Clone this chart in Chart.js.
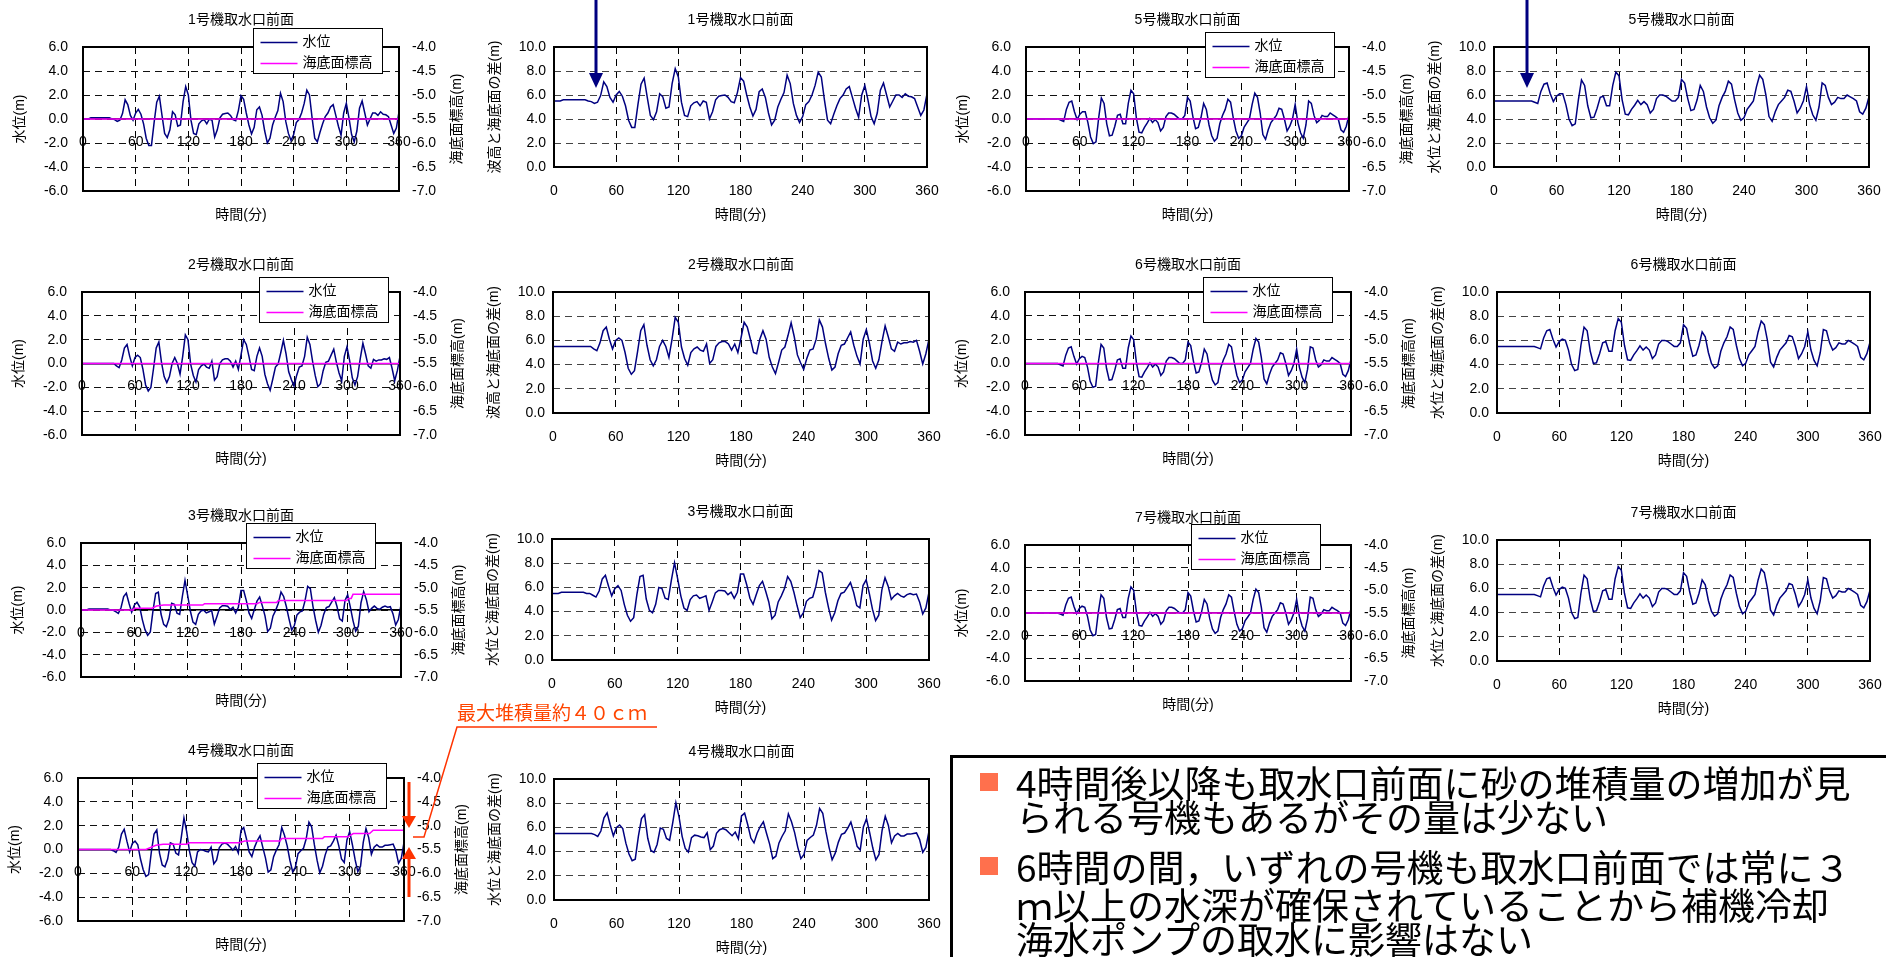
<!DOCTYPE html>
<html lang="ja">
<head>
<meta charset="utf-8">
<title>取水口前面 水位と海底面標高</title>
<script src="https://cdn.jsdelivr.net/npm/chart.js@4.4.1/dist/chart.umd.min.js"></script>
<style>
  html, body { margin: 0; padding: 0; background: #fff; }
  body { position: relative; width: 1886px; height: 957px; overflow: hidden; }
  canvas { position: absolute; }
  #marks { position: absolute; left: 0; top: 0; }
  #deposit { position: absolute; left: 457px; top: 701px; color: #ff4500; font: 19px/22px "Noto Sans CJK JP", sans-serif; white-space: nowrap; }
  #notes { position: absolute; left: 950px; top: 755px; width: 1000px; height: 260px; box-sizing: border-box;
           border: 3px solid #000; background: #fff; font: 37px "Noto Sans CJK JP", sans-serif; color: #000; }
  #notes .ln { position: absolute; left: 63px; white-space: nowrap; line-height: 35px; }
  #notes .sq { position: absolute; left: 27px; width: 18px; height: 18px; background: #ff704d; }
</style>
</head>
<body>

<div id="deposit">最大堆積量約４０ｃｍ</div>

<div id="notes">
  <div class="sq" style="top:15px"></div>
  <div class="ln" style="top:7px">4時間後以降も取水口前面に砂の堆積量の増加が見</div>
  <div class="ln" style="top:41px">られる号機もあるがその量は少ない</div>
  <div class="sq" style="top:99px"></div>
  <div class="ln" style="top:91px">6時間の間，いずれの号機も取水口前面では常に３</div>
  <div class="ln" style="top:129px">ｍ以上の水深が確保されていることから補機冷却</div>
  <div class="ln" style="top:163px">海水ポンプの取水に影響はない</div>
</div>

<svg id="marks" width="1886" height="957">
  <line x1="596" y1="0" x2="596" y2="75" stroke="#000080" stroke-width="3"/>
  <polygon points="589,73 603,73 596,88" fill="#000080"/>
  <line x1="1527" y1="0" x2="1527" y2="75" stroke="#000080" stroke-width="3"/>
  <polygon points="1520,73 1534,73 1527,88" fill="#000080"/>
  <line x1="409" y1="782" x2="409" y2="818" stroke="#ff3300" stroke-width="3"/>
  <polygon points="402,816 416,816 409,828" fill="#ff3300"/>
  <line x1="409" y1="857" x2="409" y2="897" stroke="#ff3300" stroke-width="3"/>
  <polygon points="409,847 402,859 416,859" fill="#ff3300"/>
  <polyline points="413,837 424,837 457,727 657,727" fill="none" stroke="#ff3300" stroke-width="1.5"/>
</svg>

<script>
// time axis (minutes), sampled every 3 min
var minutes = [
  0, 3, 6, 9, 12, 15, 18, 21, 24, 27,
  30, 33, 36, 39, 42, 45, 48, 51, 54, 57,
  60, 63, 66, 69, 72, 75, 78, 81, 84, 87,
  90, 93, 96, 99, 102, 105, 108, 111, 114, 117,
  120, 123, 126, 129, 132, 135, 138, 141, 144, 147,
  150, 153, 156, 159, 162, 165, 168, 171, 174, 177,
  180, 183, 186, 189, 192, 195, 198, 201, 204, 207,
  210, 213, 216, 219, 222, 225, 228, 231, 234, 237,
  240, 243, 246, 249, 252, 255, 258, 261, 264, 267,
  270, 273, 276, 279, 282, 285, 288, 291, 294, 297,
  300, 303, 306, 309, 312, 315, 318, 321, 324, 327,
  330, 333, 336, 339, 342, 345, 348, 351, 354, 357,
  360
]

// 水位 (m)
var wl1 = [
  0.0, 0.0, 0.0, 0.1, 0.1, 0.1, 0.1, 0.1, 0.1, 0.1,
  0.1, 0.0, -0.05, -0.2, -0.1, 0.45, 1.6, 1.2, 0.3, -0.1,
  0.5, 0.8, 0.4, -0.4, -1.6, -2.2, -2.2, -0.3, 1.4, 1.9,
  0.3, -1.2, -1.55, -0.9, 0.6, 0.35, -0.6, -0.5, 1.45, 2.7,
  2.0, -0.1, -1.2, -1.3, -0.4, -0.15, -0.05, -0.4, 0.0, -0.1,
  -1.5, -0.9, 0.1, 0.4, 0.45, 0.5, 0.3, -0.05, -0.15, 0.7,
  1.95, 1.65, 0.5, -0.5, -1.25, -0.7, 0.77, 1.0, 0.3, -1.0,
  -2.0, -1.6, -0.5, 0.15, 0.7, 2.15, 1.45, -0.2, -1.2, -1.8,
  -1.3, -0.3, -0.05, 0.5, 1.3, 2.4, 2.0, 0.1, -1.6, -1.9,
  -1.1, -0.4, 0.2, 0.5, 1.0, 1.2, 0.3, -0.6, -1.35, 0.5,
  1.3, 0.1, -1.3, -1.9, -1.0, 0.9, 1.5, 0.5, -0.5, 0.0,
  0.5, 0.5, 0.3, 0.6, 0.4, 0.35, 0.2, -0.5, -1.2, -0.75,
  0.6
]
var wl2 = [
  0.0, 0.0, 0.0, 0.0, 0.0, 0.0, 0.0, 0.0, 0.0, 0.0,
  0.0, 0.0, 0.0, -0.2, -0.35, 0.3, 1.3, 1.6, 0.6, -0.2,
  0.5, 0.7, 0.5, -0.5, -1.8, -2.3, -2.0, -0.4, 1.3, 1.8,
  0.1, -1.1, -1.6, -1.1, 0.0, 0.5, 0.0, -0.9, 0.6, 2.4,
  2.0, -0.05, -1.0, -1.55, -0.5, -0.2, -0.05, -0.3, -0.4, 0.2,
  -1.4, -1.1, 0.0, 0.3, 0.4, 0.4, 0.2, -0.3, 0.2, -0.5,
  0.7, 2.0, 1.6, 0.6, -0.5, -0.6, 0.6, 1.3, 0.6, -0.9,
  -1.7, -2.25, -1.3, -0.3, -0.05, 0.9, 1.95, 0.8, -0.7, -1.35,
  -1.9, -1.0, -0.3, -0.2, 0.6, 2.2, 1.6, 0.2, -1.0, -1.95,
  -1.7, -0.6, 0.1, 0.2, 0.7, 1.2, 0.1, -0.8, -1.45, 0.6,
  1.4, 0.25, -1.2, -1.8, -1.1, 0.4, 1.7, 0.8, -0.2, -0.4,
  0.35, 0.2, 0.3, 0.3, 0.4, 0.35, 0.5, -0.4, -1.45, -0.6,
  0.6
]
var wl3 = [
  0.0, 0.0, 0.0, 0.1, 0.1, 0.1, 0.1, 0.1, 0.1, 0.1,
  0.1, 0.0, 0.0, -0.15, -0.3, 0.2, 1.2, 1.5, 0.6, -0.2,
  0.44, 0.69, 0.29, -0.86, -1.76, -2.26, -1.96, -0.06, 1.48, 1.6,
  -0.36, -1.29, -1.49, -0.79, 0.61, 0.51, -0.29, -0.39, 1.21, 2.65,
  1.31, -0.09, -1.09, -1.29, -0.39, -0.09, -0.01, -0.26, -0.16, -0.06,
  -1.26, -0.56, 0.19, 0.39, 0.39, 0.34, 0.04, 0.24, -0.26, 0.24,
  1.74, 1.74, 0.84, -0.26, -0.76, 0.04, 0.79, 1.17, 0.37, -0.53,
  -1.93, -1.63, -0.53, -0.03, 0.61, 1.61, 1.21, 0.31, -0.79, -1.79,
  -1.39, -0.44, -0.19, -0.09, 0.81, 2.11, 1.91, 0.31, -0.94, -1.99,
  -1.39, -0.39, 0.21, 0.31, 0.71, 1.11, 0.31, -0.79, -0.99, 0.86,
  1.36, 0.26, -0.95, -1.9, -1.45, 0.65, 1.65, 0.95, -0.15, 0.15,
  0.35, 0.15, 0.05, 0.25, 0.35, 0.25, 0.3, -0.35, -1.35, -0.85,
  0.45
]
var wl4 = [
  0.0, 0.0, 0.0, 0.0, 0.0, 0.0, 0.0, 0.0, 0.0, 0.0,
  0.0, 0.0, 0.0, -0.1, -0.25, 0.2, 1.3, 1.7, 0.7, -0.2,
  0.5, 0.7, 0.4, -0.8, -1.7, -2.25, -2.1, -0.2, 1.3, 1.65,
  -0.3, -1.3, -1.45, -0.8, 0.55, 0.45, -0.3, -0.45, 1.0, 2.65,
  1.5, -0.1, -1.1, -1.4, -0.2, 0.0, -0.05, -0.15, -0.2, 0.2,
  -1.2, -0.9, 0.15, 0.45, 0.55, 0.45, 0.2, -0.05, 0.25, -0.3,
  1.6, 1.85, 0.9, -0.2, -0.6, 0.2, 0.75, 1.15, 0.2, -0.7,
  -1.9, -1.7, -0.6, -0.05, 0.4, 1.85, 1.2, 0.3, -0.9, -1.85,
  -1.5, -0.35, -0.1, 0.1, 0.9, 2.3, 1.9, 0.4, -0.9, -1.95,
  -1.4, -0.45, 0.2, 0.3, 0.7, 1.2, 0.3, -0.8, -1.1, 0.8,
  1.5, 0.4, -0.85, -1.85, -1.4, 0.6, 1.75, 1.0, -0.4, 0.2,
  0.4, 0.2, 0.2, 0.35, 0.35, 0.4, 0.45, -0.1, -1.15, -0.75,
  0.6
]
var wl5 = [
  0.0, 0.0, 0.0, 0.0, 0.0, 0.0, 0.0, 0.0, 0.0, 0.0,
  0.0, 0.0, 0.0, -0.1, -0.2, 0.8, 1.4, 1.5, 0.6, -0.05,
  0.4, 0.6, 0.6, -0.3, -1.5, -2.05, -1.9, 0.1, 1.75, 1.3,
  -0.4, -1.4, -1.35, -0.6, 0.3, 0.4, -0.4, -0.4, 1.3, 2.4,
  2.1, 0.1, -1.1, -1.15, -0.7, -0.35, 0.05, -0.3, -0.05, -0.3,
  -1.0, -0.7, 0.2, 0.5, 0.5, 0.4, 0.2, 0.0, 0.0, 0.3,
  1.8, 1.5, 0.2, -0.8, -0.7, 0.1, 1.3, 0.8, -0.5, -1.4,
  -1.85, -1.6, -0.4, 0.3, 0.8, 1.65, 1.4, 0.1, -1.0, -1.6,
  -1.4, -0.7, -0.35, 0.0, 1.2, 2.15, 1.8, 0.5, -1.3, -1.7,
  -0.9, -0.3, 0.0, 0.3, 0.9, 0.8, 0.0, -1.0, -0.6, 0.0,
  1.2, -0.3, -1.15, -1.6, -0.5, 1.5, 1.3, 0.3, -0.3, -0.1,
  0.3, 0.2, 0.2, 0.5, 0.35, 0.2, 0.0, -0.9, -1.1, -0.6,
  0.35
]
var wl6 = [
  0.0, 0.0, 0.0, 0.0, 0.0, 0.0, 0.0, 0.0, 0.0, 0.0,
  0.0, 0.0, 0.0, -0.1, -0.2, 0.7, 1.3, 1.4, 0.6, -0.05,
  0.4, 0.6, 0.5, -0.3, -1.5, -2.0, -1.9, 0.1, 1.6, 1.3,
  -0.4, -1.4, -1.35, -0.6, 0.3, 0.4, -0.4, -0.4, 1.3, 2.3,
  2.0, 0.1, -1.1, -1.15, -0.7, -0.35, 0.05, -0.3, -0.05, -0.3,
  -1.0, -0.7, 0.2, 0.5, 0.5, 0.4, 0.2, 0.0, 0.0, 0.3,
  1.8, 1.5, 0.2, -0.8, -0.7, 0.1, 1.2, 0.8, -0.5, -1.4,
  -1.8, -1.6, -0.4, 0.3, 0.8, 1.6, 1.4, 0.1, -1.0, -1.6,
  -1.4, -0.7, -0.35, 0.0, 1.2, 2.1, 1.8, 0.5, -1.3, -1.7,
  -0.9, -0.3, 0.0, 0.3, 0.9, 0.8, 0.0, -1.0, -0.6, 0.0,
  1.2, -0.3, -1.15, -1.6, -0.5, 1.4, 1.3, 0.3, -0.3, -0.1,
  0.3, 0.2, 0.2, 0.5, 0.35, 0.2, 0.0, -0.9, -1.1, -0.6,
  0.35
]
var wl7 = [
  0.0, 0.0, 0.0, 0.0, 0.0, 0.0, 0.0, 0.0, 0.0, 0.0,
  0.0, 0.0, 0.0, -0.1, -0.2, 0.7, 1.3, 1.4, 0.6, -0.05,
  0.4, 0.6, 0.5, -0.3, -1.5, -2.0, -1.9, 0.1, 1.6, 1.3,
  -0.4, -1.4, -1.35, -0.6, 0.3, 0.4, -0.4, -0.4, 1.3, 2.3,
  2.0, 0.1, -1.1, -1.15, -0.7, -0.35, 0.05, -0.3, -0.05, -0.3,
  -1.0, -0.7, 0.2, 0.5, 0.5, 0.4, 0.2, 0.0, 0.0, 0.3,
  1.8, 1.5, 0.2, -0.8, -0.7, 0.1, 1.2, 0.8, -0.5, -1.4,
  -1.8, -1.6, -0.4, 0.3, 0.8, 1.6, 1.4, 0.1, -1.0, -1.6,
  -1.4, -0.7, -0.35, 0.0, 1.2, 2.1, 1.8, 0.5, -1.3, -1.7,
  -0.9, -0.3, 0.0, 0.3, 0.9, 0.8, 0.0, -1.0, -0.6, 0.0,
  1.2, -0.3, -1.15, -1.6, -0.5, 1.4, 1.3, 0.3, -0.3, -0.1,
  0.3, 0.2, 0.2, 0.5, 0.35, 0.2, 0.0, -0.9, -1.1, -0.6,
  0.35
]

// 海底面標高 (m), break points
var bed1Min = [0, 360]
var bed1 = [-5.5, -5.5]
var bed2Min = [0, 360]
var bed2 = [-5.5, -5.5]
var bed3Min = [0, 59, 60, 80, 85, 93, 137, 139, 198, 201, 220, 222, 299, 301, 304, 306, 360]
var bed3 = [-5.5, -5.5, -5.46, -5.46, -5.41, -5.39, -5.39, -5.36, -5.36, -5.33, -5.33, -5.29, -5.29, -5.24, -5.24, -5.15, -5.15]
var bed4Min = [0, 75, 86, 94, 120, 123, 178, 184, 223, 225, 270, 272, 298, 304, 322, 326, 360]
var bed4 = [-5.5, -5.5, -5.41, -5.39, -5.39, -5.36, -5.36, -5.32, -5.32, -5.27, -5.27, -5.235, -5.235, -5.165, -5.165, -5.095, -5.095]
var bed5Min = [0, 360]
var bed5 = [-5.5, -5.5]
var bed6Min = [0, 360]
var bed6 = [-5.5, -5.5]
var bed7Min = [0, 360]
var bed7 = [-5.5, -5.5]

var panels = [
  { name: '1号機取水口前面', wl: wl1, bedMin: bed1Min, bed: bed1, diffTitle: '波高と海底面の差(m)',
    left: { x: 83, y: 47, w: 316, h: 144 }, right: { x: 554, y: 47, w: 373, h: 120 }, legendAt: [-146, -19] },
  { name: '2号機取水口前面', wl: wl2, bedMin: bed2Min, bed: bed2, diffTitle: '波高と海底面の差(m)',
    left: { x: 82, y: 292, w: 318, h: 143 }, right: { x: 553, y: 292, w: 376, h: 121 }, legendAt: [-141, -15] },
  { name: '3号機取水口前面', wl: wl3, bedMin: bed3Min, bed: bed3, diffTitle: '水位と海底面の差(m)',
    left: { x: 81, y: 543, w: 320, h: 134 }, right: { x: 552, y: 539, w: 377, h: 121 }, legendAt: [-155, -20] },
  { name: '4号機取水口前面', wl: wl4, bedMin: bed4Min, bed: bed4, diffTitle: '水位と海底面の差(m)',
    left: { x: 78, y: 778, w: 326, h: 143 }, right: { x: 554, y: 779, w: 375, h: 121 }, legendAt: [-147, -15] },
  { name: '5号機取水口前面', wl: wl5, bedMin: bed5Min, bed: bed5, diffTitle: '水位と海底面の差(m)',
    left: { x: 1026, y: 47, w: 323, h: 144 }, right: { x: 1494, y: 47, w: 375, h: 120 }, legendAt: [-144, -15] },
  { name: '6号機取水口前面', wl: wl6, bedMin: bed6Min, bed: bed6, diffTitle: '水位と海底面の差(m)',
    left: { x: 1025, y: 292, w: 326, h: 143 }, right: { x: 1497, y: 292, w: 373, h: 121 }, legendAt: [-148, -15] },
  { name: '7号機取水口前面', wl: wl7, bedMin: bed7Min, bed: bed7, diffTitle: '水位と海底面の差(m)',
    left: { x: 1025, y: 545, w: 326, h: 136 }, right: { x: 1497, y: 540, w: 373, h: 121 }, legendAt: [-160, -21] }
]

var FONT = '"Liberation Sans", "Noto Sans CJK JP", sans-serif'
Chart.defaults.font.family = FONT
Chart.defaults.font.size = 14
Chart.defaults.color = '#000'

function fmt (v) { return v.toFixed(1) }

function pts (xs, ys) {
  return xs.map(function (x, i) { return { x: x, y: ys[i] } })
}

// seabed level at time t (linear between break points)
function bedAt (mins, vals, t) {
  for (var i = 1; i < mins.length; i++) {
    if (t <= mins[i]) {
      return vals[i - 1] + (t - mins[i - 1]) / (mins[i] - mins[i - 1]) * (vals[i] - vals[i - 1])
    }
  }
  return vals[vals.length - 1]
}

function addCanvas (x, y, w, h) {
  var c = document.createElement('canvas')
  c.width = w
  c.height = h
  c.style.left = x + 'px'
  c.style.top = y + 'px'
  document.body.appendChild(c)
  return c
}

// frame, in-plot legend and the right hand axis title
var panelDecor = {
  id: 'panelDecor',
  afterDraw: function (chart, args, o) {
    var a = chart.chartArea
    var ctx = chart.ctx
    ctx.save()
    ctx.strokeStyle = '#000'
    ctx.lineWidth = 2
    ctx.strokeRect(a.left, a.top, a.right - a.left, a.bottom - a.top)

    if (o.rightTitle) {
      ctx.save()
      ctx.translate(a.right + o.rightTitleDx, (a.top + a.bottom) / 2)
      ctx.rotate(-Math.PI / 2)
      ctx.font = '14px ' + FONT
      ctx.fillStyle = '#000'
      ctx.textAlign = 'center'
      ctx.textBaseline = 'middle'
      ctx.fillText(o.rightTitle, 0, 0)
      ctx.restore()
    }

    if (o.legendAt) {
      var x = Math.round(a.right + o.legendAt[0]) + 0.5
      var y = Math.round(a.top + o.legendAt[1]) + 0.5
      ctx.fillStyle = '#fff'
      ctx.fillRect(x, y, 129, 45)
      ctx.strokeStyle = '#000'
      ctx.lineWidth = 1
      ctx.strokeRect(x, y, 129, 45)
      var items = chart.data.datasets.slice().sort(function (p, q) { return p.legendRank - q.legendRank })
      ctx.font = '14px ' + FONT
      ctx.textBaseline = 'middle'
      ctx.textAlign = 'left'
      items.forEach(function (ds, i) {
        var ly = y + 14 + i * 21
        ctx.strokeStyle = ds.borderColor
        ctx.lineWidth = 1.5
        ctx.beginPath()
        ctx.moveTo(x + 7, ly)
        ctx.lineTo(x + 44, ly)
        ctx.stroke()
        ctx.fillStyle = '#000'
        ctx.fillText(ds.label, x + 49, ly)
      })
    }
    ctx.restore()
  }
}

var titleOpts = function (text) {
  return { display: true, text: text, color: '#000', font: { size: 14, weight: 'normal' }, padding: { top: 9.6, bottom: 18.6 } }
}

function levelChart (p) {
  var r = p.left
  var cv = addCanvas(r.x - 85, r.y - 45, r.w + 170, r.h + 85)
  new Chart(cv, {
    type: 'line',
    data: {
      datasets: [
        { label: '海底面標高', data: pts(p.bedMin, p.bed), yAxisID: 'y2', borderColor: '#ff00ff', borderWidth: 1.5, pointRadius: 0, legendRank: 2 },
        { label: '水位', data: pts(minutes, p.wl), yAxisID: 'y', borderColor: '#000080', borderWidth: 1.5, pointRadius: 0, legendRank: 1 }
      ]
    },
    options: {
      responsive: false,
      animation: false,
      events: [],
      layout: { padding: 0 },
      plugins: {
        legend: { display: false },
        tooltip: { enabled: false },
        title: titleOpts(p.name),
        panelDecor: { legendAt: p.legendAt, rightTitle: '海底面標高(m)', rightTitleDx: 58 }
      },
      scales: {
        x: {
          type: 'linear', min: 0, max: 360, position: { y: 0 },
          ticks: { stepSize: 60, padding: 14.6, autoSkip: false, maxRotation: 0 },
          grid: { color: '#000', drawTicks: false },
          border: { display: true, color: '#000', width: 1.5, dash: [7, 5] }
        },
        xt: {
          type: 'linear', min: 0, max: 360, position: 'bottom',
          ticks: { display: false }, grid: { display: false }, border: { display: false },
          title: { display: true, text: '時間(分)', font: { size: 14 }, padding: { top: 0, bottom: 7.6 } },
          afterFit: function (s) { s.height = 40 }
        },
        y: {
          min: -6, max: 6,
          ticks: { stepSize: 2, padding: 15, callback: fmt },
          grid: { color: '#111', drawTicks: false },
          border: { display: false, dash: [7, 5] },
          title: { display: true, text: '水位(m)', font: { size: 14 }, padding: { top: 13.6, bottom: 0 } },
          afterFit: function (s) { s.width = 85 }
        },
        y2: {
          position: 'right', min: -7, max: -4,
          ticks: { stepSize: 0.5, padding: 13, callback: fmt },
          grid: { drawOnChartArea: false, drawTicks: false },
          border: { display: false },
          afterFit: function (s) { s.width = 85 }
        }
      }
    },
    plugins: [panelDecor]
  })
}

function depthChart (p) {
  var r = p.right
  var cv = addCanvas(r.x - 75, r.y - 45, r.w + 150, r.h + 107)
  var diff = minutes.map(function (t, i) {
    return { x: t, y: p.wl[i] - bedAt(p.bedMin, p.bed, t) }
  })
  new Chart(cv, {
    type: 'line',
    data: {
      datasets: [
        { label: p.diffTitle, data: diff, borderColor: '#000080', borderWidth: 1.5, pointRadius: 0 }
      ]
    },
    options: {
      responsive: false,
      animation: false,
      events: [],
      layout: { padding: 0 },
      plugins: {
        legend: { display: false },
        tooltip: { enabled: false },
        title: titleOpts(p.name),
        panelDecor: {}
      },
      scales: {
        x: {
          type: 'linear', min: 0, max: 360, position: 'bottom',
          ticks: { stepSize: 60, padding: 15.6, autoSkip: false, maxRotation: 0 },
          grid: { color: '#000', drawTicks: false },
          border: { display: false, dash: [7, 5] },
          title: { display: true, text: '時間(分)', font: { size: 14 }, padding: { top: 0, bottom: 5.6 } },
          afterFit: function (s) { s.height = 62 }
        },
        y: {
          min: 0, max: 10,
          ticks: { stepSize: 2, padding: 8, callback: fmt },
          grid: { color: '#444', drawTicks: false },
          border: { display: false, dash: [7, 5] },
          title: { display: true, text: p.diffTitle, font: { size: 14 }, padding: { top: 7.6, bottom: 0 } },
          afterFit: function (s) { s.width = 75 }
        },
        yr: {
          position: 'right', min: 0, max: 1,
          ticks: { display: false }, grid: { display: false }, border: { display: false },
          afterFit: function (s) { s.width = 75 }
        }
      }
    },
    plugins: [panelDecor]
  })
}

panels.forEach(function (p) {
  levelChart(p)
  depthChart(p)
})

// keep the annotations above the chart canvases
document.body.appendChild(document.getElementById('marks'))
document.body.appendChild(document.getElementById('deposit'))
document.body.appendChild(document.getElementById('notes'))
</script>
</body>
</html>
